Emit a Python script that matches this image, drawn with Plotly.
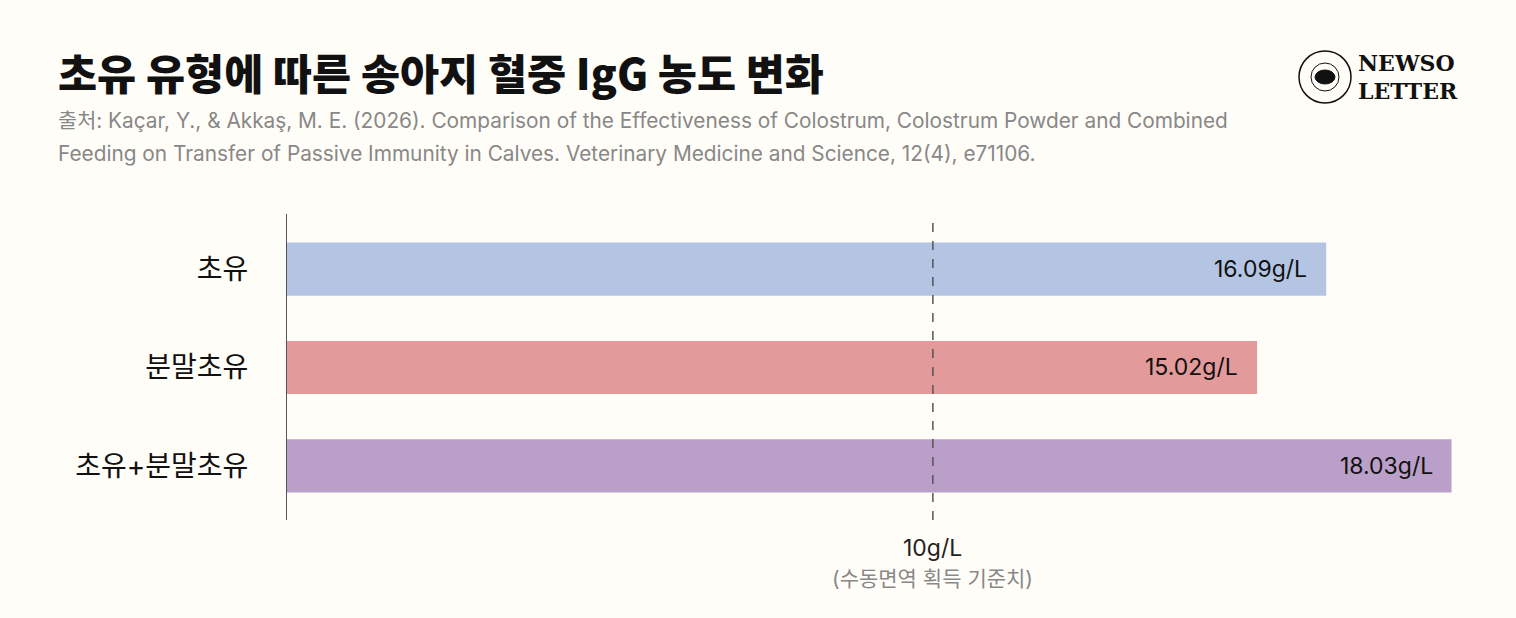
import plotly.graph_objects as go

# data
categories = ['초유', '분말초유', '초유+분말초유']
igg_values = [16.09, 15.02, 18.03]
bar_labels = ['16.09g/L', '15.02g/L', '18.03g/L']
bar_colors = ['#b3c5e3', '#e39a9b', '#baa0c8']
threshold = 10
threshold_label = '10g/L'
threshold_note = '(수동면역 획득 기준치)'

title = '초유 유형에 따른 송아지 혈중 IgG 농도 변화'
source_lines = ['출처: Kaçar, Y., & Akkaş, M. E. (2026). Comparison of the Effectiveness of Colostrum, '
                'Colostrum Powder and Combined',
                'Feeding on Transfer of Passive Immunity in Calves. '
                'Veterinary Medicine and Science, 12(4), e71106.']

bg = '#fffdf7'
font_kr = 'Inter, Noto Sans CJK KR'

W, H = 1516, 618
ml, mr, mt, mb = 287, 49, 214, 98
pw, ph = W - ml - mr, H - mt - mb


def px(x):
    return (x - ml) / pw


def py(y):
    # y measured from top of the image
    return (H - y - mb) / ph


fig = go.Figure()
fig.add_trace(go.Bar(
    x=igg_values,
    y=categories,
    orientation='h',
    marker=dict(color=bar_colors, line=dict(width=0)),
    width=0.54,
    hoverinfo='skip',
))

# value labels inside bar ends
for cat, val, lab in zip(categories, igg_values, bar_labels):
    fig.add_annotation(x=val, y=cat, text=lab, showarrow=False,
                       xanchor='right', xshift=-17,
                       font=dict(family=font_kr, size=23, color='#111'))

# threshold line + labels
fig.add_shape(type='line', x0=threshold, x1=threshold, y0=0, y1=1,
              xref='x', yref='paper',
              line=dict(color='#555', width=1.5, dash='dash'))
fig.add_annotation(x=threshold, y=0, yref='paper', text=threshold_label,
                   showarrow=False, yanchor='top', yshift=-12,
                   font=dict(family=font_kr, size=23, color='#222'))
fig.add_annotation(x=threshold, y=0, yref='paper', text=threshold_note,
                   showarrow=False, yanchor='top', yshift=-44,
                   font=dict(family=font_kr, size=21, color='#888'))

# title + source
fig.add_annotation(x=px(56), y=py(71), xref='paper', yref='paper', text=title,
                   showarrow=False, xanchor='left', yanchor='middle',
                   font=dict(family='Noto Sans CJK KR', size=42.5, color='#111', weight=900))
for i, line in enumerate(source_lines):
    fig.add_annotation(x=px(56), y=py(120 + 33 * i), xref='paper', yref='paper', text=line,
                       showarrow=False, xanchor='left', yanchor='middle', align='left',
                       font=dict(family=font_kr, size=20.8, color='#888'))

# logo
fig.add_shape(type='circle', xref='paper', yref='paper',
              x0=px(1299), x1=px(1351), y0=py(103), y1=py(51),
              line=dict(color='#111', width=1.5))
fig.add_shape(type='circle', xref='paper', yref='paper',
              x0=px(1311), x1=px(1339), y0=py(91), y1=py(63),
              line=dict(color='#111', width=1))
fig.add_shape(type='circle', xref='paper', yref='paper',
              x0=px(1315), x1=px(1335), y0=py(84), y1=py(70),
              fillcolor='#111', line=dict(color='#111', width=1))
fig.add_annotation(x=px(1356), y=py(63), xref='paper', yref='paper', text='<b>NEWSO</b>',
                   showarrow=False, xanchor='left', yanchor='middle',
                   font=dict(family='DejaVu Serif', size=22, color='#111', weight=900))
fig.add_annotation(x=px(1356), y=py(91), xref='paper', yref='paper', text='<b>LETTER</b>',
                   showarrow=False, xanchor='left', yanchor='middle',
                   font=dict(family='DejaVu Serif', size=22, color='#111', weight=900))

fig.update_layout(
    width=W, height=H,
    margin=dict(l=ml, r=mr, t=mt, b=mb),
    paper_bgcolor=bg, plot_bgcolor=bg,
    showlegend=False,
    xaxis=dict(range=[0, 18.27], visible=False, fixedrange=True),
    yaxis=dict(range=[-0.55, 2.56], autorange=False, categoryorder='array',
               categoryarray=categories[::-1],
               showline=True, linecolor='#555', linewidth=1.2,
               showgrid=False, zeroline=False, ticks='', ticklabelstandoff=32,
               tickfont=dict(family=font_kr, size=28, color='#111'),
               fixedrange=True),
)

fig.write_html('out.html', config={'displayModeBar': False},
               post_script="document.body.style.margin='0';")
